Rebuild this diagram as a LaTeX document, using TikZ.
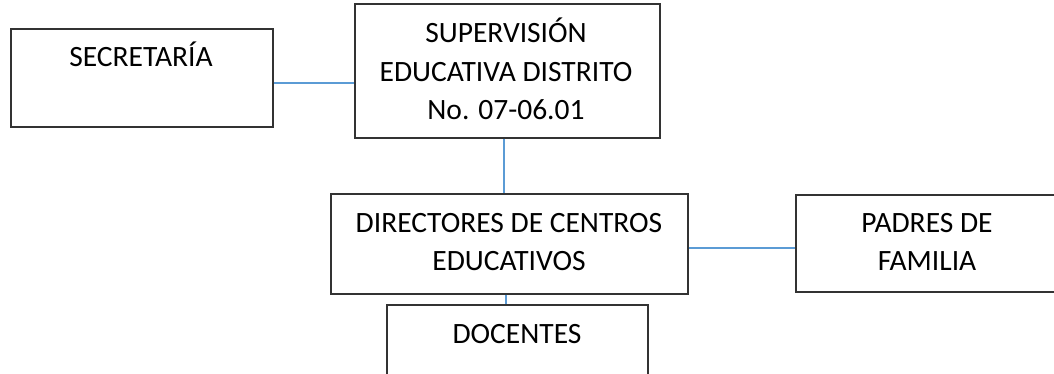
\documentclass[tikz,border=0pt]{standalone}
\usepackage{fontspec}
\setmainfont{Carlito}
\begin{document}
\begin{tikzpicture}[x=1pt,y=-1pt,
  box/.style={draw=black!80, line width=1.6pt, anchor=north west, inner sep=0pt},
  txt/.style={anchor=base, inner sep=0pt, font=\fontsize{29.5}{36}\selectfont, text=black},
  conn/.style={draw={rgb,255:red,91;green,155;blue,213}, line width=1.5pt}]
\useasboundingbox (0,0) rectangle (1054,373);
\clip (0,0) rectangle (1054,373);
\node[box, minimum width=262pt, minimum height=98pt] (sec) at (10,28) {};
\node[box, minimum width=305pt, minimum height=134pt] (sup) at (354,3) {};
\node[box, minimum width=357pt, minimum height=100pt] (dir) at (330,193) {};
\node[box, minimum width=280pt, minimum height=97pt] (pad) at (795,194) {};
\node[box, minimum width=261pt, minimum height=100pt] (doc) at (386,304) {};
\node[txt] (secT) at (141,66) {SECRETARÍA};
\node[txt] (supT1) at (506,42) {SUPERVISIÓN};
\node[txt] (supT2) at (506,81) {EDUCATIVA DISTRITO};
\node[txt] (supT3) at (506,119) {No. 07-06.01};
\node[txt] (dirT1) at (509,232) {DIRECTORES DE CENTROS};
\node[txt] (dirT2) at (509,270) {EDUCATIVOS};
\node[txt] (padT1) at (927,232) {PADRES DE};
\node[txt] (padT2) at (927,270) {FAMILIA};
\node[txt] (docT) at (517,343) {DOCENTES};
\draw[conn] (sec.east |- 0,83) -- (sup.west |- 0,83);
\draw[conn] (sup.south -| 504,0) -- (dir.north -| 504,0);
\draw[conn] (dir.east |- 0,248) -- (pad.west |- 0,248);
\draw[conn] (dir.south -| 506,0) -- (doc.north -| 506,0);
\end{tikzpicture}
\end{document}
